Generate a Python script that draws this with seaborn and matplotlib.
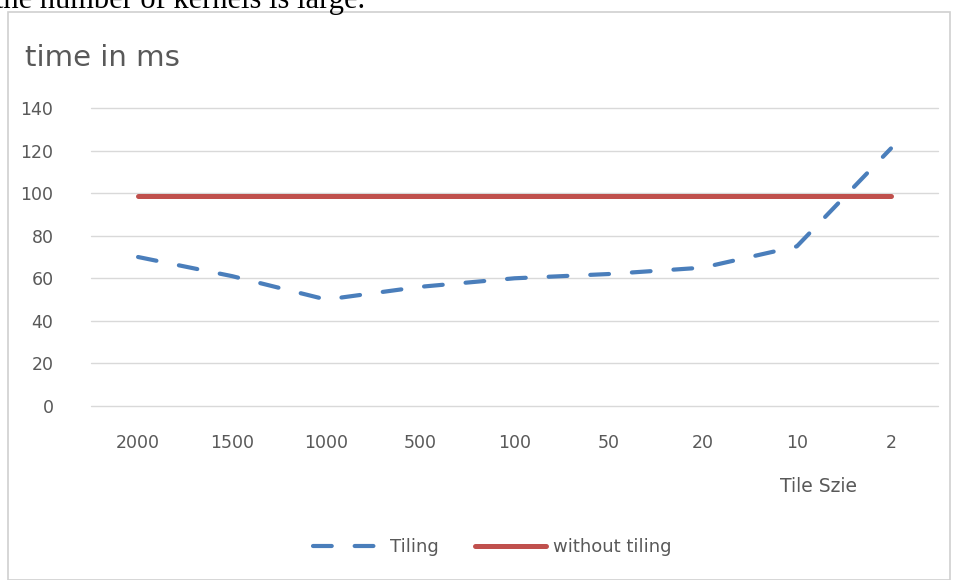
import matplotlib
matplotlib.use("Agg")
import matplotlib.pyplot as plt
import seaborn as sns
import pandas as pd
from matplotlib.patches import Rectangle
from matplotlib.lines import Line2D

tile_sizes = ["2000", "1500", "1000", "500", "100", "50", "20", "10", "2"]
tiling = [70, 61, 50, 56, 60, 62, 65, 75, 121]
without_tiling = [98.5, 98.5, 98.5, 98.5, 98.5, 98.5, 98.5, 98.5, 98.5]
y_ticks = [0, 20, 40, 60, 80, 100, 120, 140]

sns.set_theme(style="white")
plt.rcParams['font.family'] = ['DejaVu Sans']

df = pd.DataFrame({"tile": tile_sizes, "Tiling": tiling, "without tiling": without_tiling})

fig = plt.figure(figsize=(9.57, 5.80), dpi=100)
ax = fig.add_axes([91/957, 1-406/580, 847/957, 298/580])

blue = "#4a7ebb"
red = "#c0504d"
gray_text = "#595959"
dash = (0, (4.5, 5.5))

sns.lineplot(data=df, x="tile", y="without tiling", ax=ax, color=red, lw=3.6,
             solid_capstyle="round", sort=False)
sns.lineplot(data=df, x="tile", y="Tiling", ax=ax, color=blue, lw=3.0,
             dashes=False, sort=False)
ln = ax.lines[-1]
ln.set_linestyle(dash)
ln.set_dash_capstyle("round")

ax.set_xlim(-0.5, len(tile_sizes) - 0.5)
ax.set_ylim(0, 140)
ax.set_yticks(y_ticks)
ax.set_yticklabels([str(v) for v in y_ticks])
ax.yaxis.grid(True, color="#d9d9d9", lw=1.0)
for g in ax.yaxis.get_gridlines():
    g.set_clip_on(False)
ax.set_axisbelow(True)
for s in ax.spines.values():
    s.set_visible(False)
ax.tick_params(axis="both", length=0, colors=gray_text, labelsize=12.5)
ax.tick_params(axis="y", pad=27)
ax.tick_params(axis="x", pad=20)
ax.set_xlabel("")
ax.set_ylabel("")
ax.set_facecolor("none")

fig.text(25/957, 1-58/580, "time in ms", fontsize=21, color=gray_text, va="center", ha="left")
fig.text(819/957, 1-487/580, "Tile Szie", fontsize=13.5, color=gray_text, va="center", ha="center")

# document text cut off above the chart
fig.text(-5/957, 1-8/580, "the number of kernels is large.", fontsize=22,
         family=["Liberation Serif"], color="black", va="baseline", ha="left")

# chart border
fig.patches.append(Rectangle((8/957, 0.0), 942/957, 1-12/580, transform=fig.transFigure,
                             fill=False, edgecolor="#d0d0d0", lw=1.2))

handles = [Line2D([], [], color=blue, lw=3.0, linestyle=dash, dash_capstyle="round"),
           Line2D([], [], color=red, lw=3.6, solid_capstyle="round")]
fig.legend(handles, ["Tiling", "without tiling"], loc="center",
           bbox_to_anchor=(492/957, 1-547/580), ncol=2, frameon=False,
           fontsize=13, labelcolor=gray_text, handlelength=3.9, handletextpad=0.4,
           columnspacing=2.0)

fig.savefig("out.png", dpi=100, facecolor="white")
